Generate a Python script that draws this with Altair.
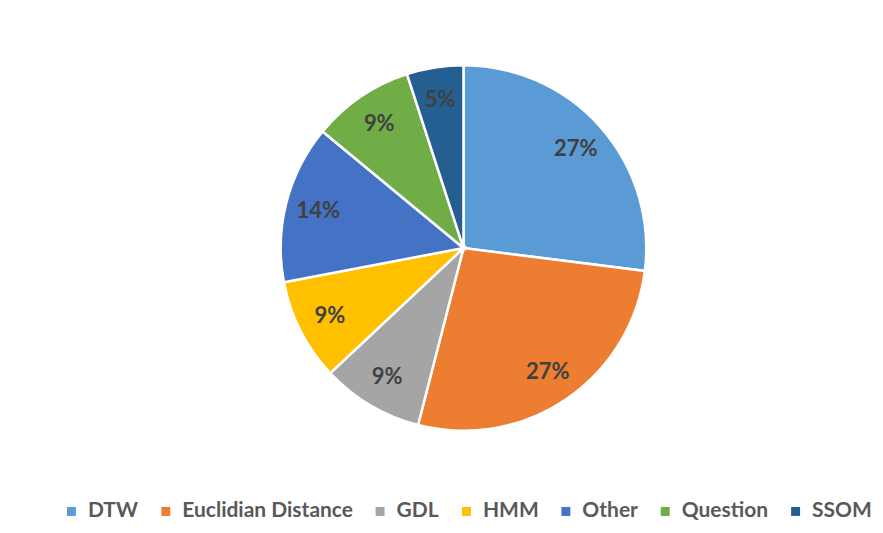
import altair as alt
import pandas as pd

# Share of each method (percent)
methods = ["DTW", "Euclidian Distance", "GDL", "HMM", "Other", "Question", "SSOM"]
shares = [27, 27, 9, 9, 14, 9, 5]
palette = ["#5B9BD5", "#ED7D31", "#A5A5A5", "#FFC000", "#4472C4", "#70AD47", "#255E91"]

df = pd.DataFrame({
    "method": methods,
    "share": shares,
    "rank": list(range(len(methods))),
})
df["label"] = df["share"].astype(str) + "%"

FONT = "Lato"

base = alt.Chart(df).encode(
    theta=alt.Theta("share:Q", stack=True),
    order=alt.Order("rank:Q"),
)

slices = base.mark_arc(outerRadius=183, stroke="white", strokeWidth=2.5).encode(
    color=alt.Color(
        "method:N",
        sort=methods,
        scale=alt.Scale(domain=methods, range=palette),
        legend=alt.Legend(
            title=None,
            orient="none",
            direction="horizontal",
            columns=len(methods),
            legendX=17,
            legendY=501,
            symbolType="square",
            symbolSize=80,
            symbolStrokeWidth=0,
            labelFont=FONT,
            labelFontWeight="bold",
            labelFontSize=21,
            labelLimit=400,
            labelColor="#595959",
            labelOffset=6,
            columnPadding=16.5,
        ),
    )
)

labels = base.mark_text(
    radius=150,
    font=FONT,
    fontWeight="bold",
    fontSize=22,
    color="#404040",
).encode(text="label:N")

chart = (
    (slices + labels)
    .properties(
        width=840,
        height=496,
        autosize=alt.AutoSizeParams(type="none"),
        padding={"left": 44, "top": 0, "right": 0, "bottom": 37},
        background="white",
    )
    .configure_view(stroke=None)
)

chart.save("out.html", embed_options={"renderer": "svg", "actions": False})
